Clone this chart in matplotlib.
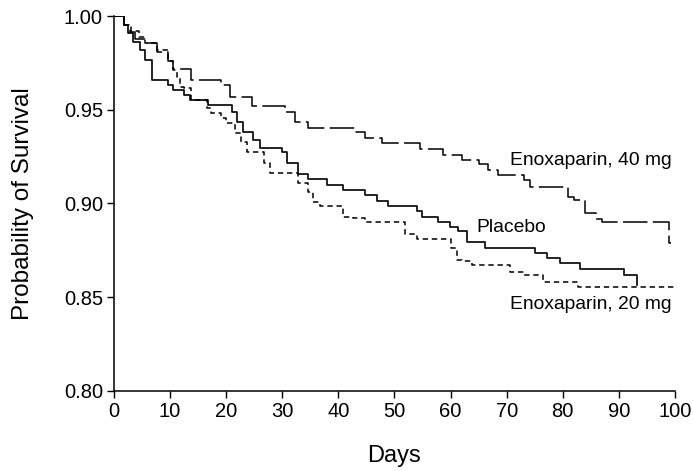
import matplotlib
matplotlib.use("Agg")
import matplotlib.pyplot as plt

plt.rcParams['font.family'] = ['Liberation Sans', 'DejaVu Sans']

# Kaplan-Meier step data (day of step, survival after step)
placebo_days = [0, 1.7, 2.5, 3.4, 4.6, 5.5, 6.8, 9.6, 10.5, 12.5, 13.5, 16.8, 21.0, 22.0, 23.0,
                24.8, 26.0, 29.9, 30.8, 32.8, 34.6, 38.0, 40.8, 44.7, 46.8, 48.9, 54.0, 54.9,
                57.8, 59.9, 61.3, 62.9, 66.1, 75.0, 77.2, 79.5, 83.0, 91.0, 93.2]
placebo_surv = [1.0, 0.995, 0.991, 0.986, 0.982, 0.9765, 0.966, 0.963, 0.9605, 0.958, 0.955,
                0.9525, 0.949, 0.9436, 0.938, 0.934, 0.9295, 0.9276, 0.9215, 0.9157, 0.913,
                0.910, 0.907, 0.9045, 0.9015, 0.8987, 0.896, 0.893, 0.890, 0.8876, 0.8853,
                0.8796, 0.876, 0.8736, 0.871, 0.868, 0.865, 0.862, 0.8565]

enox20_days = [0, 1.7, 3.0, 4.5, 5.5, 7.7, 9.6, 10.5, 11.3, 11.8, 12.5, 13.8, 16.6, 17.3, 19.0,
               20.0, 21.6, 22.6, 23.7, 26.8, 27.8, 32.8, 34.6, 35.5, 36.7, 40.8, 42.6, 44.7,
               51.9, 54.0, 60.0, 61.1, 62.0, 63.8, 70.6, 73.0, 76.5, 82.7, 100]
enox20_surv = [1.0, 0.995, 0.992, 0.989, 0.9855, 0.982, 0.976, 0.971, 0.9675, 0.962, 0.9615,
               0.955, 0.951, 0.948, 0.9455, 0.943, 0.9375, 0.933, 0.9275, 0.9215, 0.916, 0.911,
               0.906, 0.901, 0.8987, 0.893, 0.892, 0.890, 0.8837, 0.881, 0.876, 0.870, 0.8693,
               0.867, 0.8635, 0.862, 0.858, 0.8556, 0.8556]

enox40_days = [0, 1.7, 2.8, 3.7, 5.9, 7.7, 9.7, 10.5, 13.7, 19.0, 20.7, 24.6, 30.5, 32.3, 34.6,
               43.0, 44.7, 47.8, 54.5, 58.6, 62.0, 65.0, 66.7, 68.5, 73.0, 74.2, 81.0, 82.0,
               84.0, 86.0, 87.0, 98.9, 99.3]
enox40_surv = [1.0, 0.995, 0.9916, 0.988, 0.9855, 0.981, 0.976, 0.972, 0.966, 0.963, 0.957,
               0.952, 0.949, 0.9435, 0.940, 0.938, 0.935, 0.932, 0.929, 0.926, 0.923, 0.921,
               0.918, 0.915, 0.9125, 0.909, 0.9035, 0.902, 0.895, 0.8917, 0.8900, 0.879, 0.879]

x_ticks = [0, 10, 20, 30, 40, 50, 60, 70, 80, 90, 100]
y_ticks = [0.80, 0.85, 0.90, 0.95, 1.00]

fig = plt.figure(figsize=(6.93, 4.71), dpi=100)
ax = fig.add_axes([0.1645, 0.170, 0.8095, 0.796])

ax.step(enox40_days, enox40_surv, where="post", color="black", lw=1.1,
        linestyle=(0, (16, 3.5)))
ax.step(placebo_days, placebo_surv, where="post", color="black", lw=1.2)
ax.step(enox20_days, enox20_surv, where="post", color="black", lw=1.1,
        linestyle=(0, (3.5, 2.5)))

ax.text(70.6, 0.9227, "Enoxaparin, 40 mg", fontsize=13.9, va="center", ha="left")
ax.text(64.6, 0.887, "Placebo", fontsize=13.9, va="center", ha="left")
ax.text(70.6, 0.846, "Enoxaparin, 20 mg", fontsize=13.9, va="center", ha="left")

ax.set_xlim(0, 100)
ax.set_ylim(0.80, 1.00)
ax.set_xticks(x_ticks)
ax.set_yticks(y_ticks)
ax.set_yticklabels(["%.2f" % v for v in y_ticks])
ax.tick_params(direction="out", length=5, width=1.0, labelsize=14.5, colors="black", pad=3)

for s in ["top", "right"]:
    ax.spines[s].set_visible(False)
for s in ["left", "bottom"]:
    ax.spines[s].set_linewidth(1.1)

ax.set_xlabel("Days", fontsize=17)
ax.set_ylabel("Probability of Survival", fontsize=17.5)
ax.xaxis.set_label_coords(0.5, -0.145)
ax.yaxis.set_label_coords(-0.143, 0.5)

fig.savefig("out.png", dpi=100)
